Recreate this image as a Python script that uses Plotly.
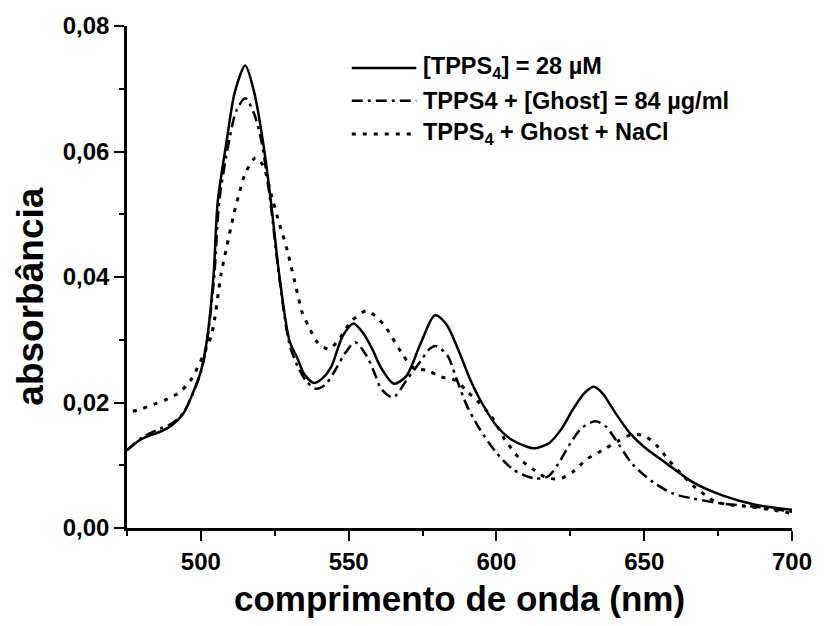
import plotly.graph_objects as go

# ---- data ----
wl_solid = [475, 480, 486, 490, 494, 497, 500, 502, 504.3, 505.7, 508.7, 511.5, 515, 518, 521, 523.7, 526.5, 530, 532.7, 535,
            538.3, 541, 544, 548, 551.6, 555, 558, 561, 565.3, 569.5, 574.5, 579.2, 583, 587, 591, 595, 600, 605, 610, 613,
            618, 622, 626, 630, 633, 636, 640, 645, 650, 657.5, 666.4, 676.4, 687.6, 700]
abs_solid = [0.0124, 0.0142, 0.0153, 0.0163, 0.0182, 0.0212, 0.025, 0.0298, 0.0404, 0.052,
             0.0616, 0.0695, 0.0737, 0.0695, 0.0616, 0.052, 0.0404, 0.0298, 0.027, 0.0245,
             0.0231, 0.0238, 0.0256, 0.0306, 0.0326, 0.031, 0.0285, 0.0255, 0.023, 0.0242,
             0.0296, 0.0339, 0.0325, 0.0285, 0.0238, 0.02, 0.0163, 0.0141, 0.013, 0.0127,
             0.0136, 0.0158, 0.019, 0.0216, 0.0225, 0.0214, 0.0185, 0.0152, 0.0129, 0.0103,
             0.0073, 0.0052, 0.0037, 0.0029]

wl_ghost = [475, 480, 486, 490, 494, 497, 500, 502, 504.5, 506.2, 509.5, 512, 515, 518, 520.5, 523.5, 526.5, 530, 533, 535.5,
            538.8, 542, 545, 549, 552.2, 556, 558.5, 561, 565, 569.5, 574.5, 577.3, 579.5, 583.4, 586.7, 590, 593.9, 600, 606, 612.9,
            617.4, 621, 625, 629, 633.5, 637, 640, 646, 653, 659.7, 666.4, 676.4, 687.5, 700]
abs_ghost = [0.0124, 0.0144, 0.0158, 0.0166, 0.0183, 0.0211, 0.0248, 0.0295, 0.040, 0.052,
             0.0616, 0.0665, 0.0685, 0.066, 0.0616, 0.052, 0.040, 0.0292, 0.0255, 0.0235,
             0.0222, 0.0228, 0.0248, 0.028, 0.0296, 0.0275, 0.025, 0.0222, 0.0208, 0.0235,
             0.0267, 0.0285, 0.029, 0.0275, 0.0235, 0.0195, 0.0161, 0.012, 0.0092, 0.0079,
             0.0082, 0.0103, 0.0135, 0.016, 0.017, 0.0162, 0.0143, 0.0102, 0.0073, 0.0055,
             0.0047, 0.0039, 0.0034, 0.0026]

wl_nacl = [477, 480, 484, 488, 492.7, 496.6, 500.5, 503.7, 506.8, 508.7, 511, 513, 515, 518.5, 521, 524.1, 526, 529.3, 532.7, 534.3,
           536.6, 539.4, 543.3, 547.2, 551, 556, 559, 562.2, 567.8, 571.7, 576.7, 581.2, 586.2, 590, 594.5, 598.4, 603, 608, 612.9, 617,
           621.8, 626, 630.7, 636.3, 641, 645.2, 649.7, 654.1, 658, 662, 666.4, 670.8, 674, 679, 685.4, 693, 700]
abs_nacl = [0.0186, 0.019, 0.0197, 0.0204, 0.0216, 0.0236, 0.0272, 0.031, 0.0404, 0.0447,
            0.0497, 0.0534, 0.0565, 0.059, 0.0578, 0.0526, 0.0494, 0.0441, 0.0373, 0.0343,
            0.032, 0.0296, 0.0285, 0.0304, 0.033, 0.0346, 0.0338, 0.0322, 0.028, 0.0256,
            0.0251, 0.0241, 0.0235, 0.0218, 0.0198, 0.0177, 0.014, 0.011, 0.0092, 0.008,
            0.0079, 0.009, 0.011, 0.0125, 0.0138, 0.0148, 0.0148, 0.0132, 0.011, 0.0089,
            0.0068, 0.0052, 0.0042, 0.0037, 0.0034, 0.0029, 0.0023]

series_names = ["[TPPS<sub>4</sub>] = 28 µM",
                "TPPS4 + [Ghost] = 84 µg/ml",
                "TPPS<sub>4</sub> + Ghost + NaCl"]
x_ticks = [500, 550, 600, 650, 700]
y_ticks = [0.00, 0.02, 0.04, 0.06, 0.08]

FONT = "Liberation Sans, Arial, sans-serif"
dashes = ["solid", "11px,5px,3px,5px", "4px,7px"]
widths = [2.5, 2.5, 3]

fig = go.Figure()
for x, y, name, d, w in zip([wl_solid, wl_ghost, wl_nacl], [abs_solid, abs_ghost, abs_nacl],
                            series_names, dashes, widths):
    fig.add_trace(go.Scatter(x=x, y=y, mode="lines", name=name, showlegend=False,
                             line=dict(color="black", width=w, dash=d, shape="spline", smoothing=0.8)))

# custom legend (long line samples as in the reference)
leg_y = [0.9165, 0.851, 0.785]
for yy, name, d, w in zip(leg_y, series_names, dashes, widths):
    fig.add_shape(type="line", xref="paper", yref="paper", x0=0.338, x1=0.435, y0=yy, y1=yy,
                  line=dict(color="black", width=w, dash=d))
    fig.add_annotation(xref="paper", yref="paper", x=0.442, y=yy, xanchor="left", yanchor="middle",
                       text=name, showarrow=False,
                       font=dict(family=FONT, size=23.5, color="black", weight="bold"))

# axis titles
fig.add_annotation(xref="paper", yref="paper", x=0.5, y=-0.14, xanchor="center", yanchor="middle",
                   text="comprimento de onda (nm)", showarrow=False,
                   font=dict(family=FONT, size=35, color="black", weight="bold"))
fig.add_annotation(xref="paper", yref="paper", x=-0.145, y=0.46, xanchor="center", yanchor="middle",
                   text="absorbância", textangle=-90, showarrow=False,
                   font=dict(family=FONT, size=37, color="black", weight="bold"))

axis_common = dict(showline=True, linecolor="black", linewidth=2.5, ticks="outside", ticklen=10,
                   tickwidth=2, tickcolor="black", showgrid=False, zeroline=False, mirror=False,
                   tickfont=dict(family=FONT, size=24, color="black", weight="bold"))
fig.update_xaxes(range=[475, 700], tickvals=x_ticks, ticktext=[str(v) for v in x_ticks],
                 minor=dict(ticks="outside", ticklen=5, tickwidth=2, tickcolor="black",
                            tickvals=[475, 525, 575, 625, 675]),
                 **axis_common)
fig.update_yaxes(range=[0, 0.08], tickvals=y_ticks,
                 ticktext=[f"{v:.2f}".replace(".", ",") for v in y_ticks],
                 minor=dict(ticks="outside", ticklen=5, tickwidth=2, tickcolor="black",
                            tickvals=[0.01, 0.03, 0.05, 0.07]),
                 **axis_common)

fig.update_layout(width=824, height=626, plot_bgcolor="white", paper_bgcolor="white",
                  margin=dict(l=127, r=24, t=25, b=98), showlegend=False,
                  font=dict(family=FONT, color="black"))
fig.write_html("out.html")
